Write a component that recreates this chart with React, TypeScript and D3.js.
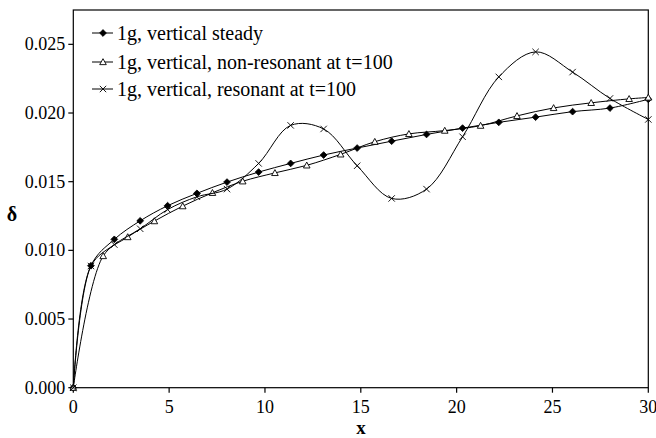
import React from "react";
import * as d3 from "d3";

const xSteady = [0, 0.92, 2.14, 3.49, 4.92, 6.45, 8.02, 9.67, 11.34, 13.06, 14.81, 16.61, 18.43, 20.31, 22.2, 24.12, 26.05, 28.0, 30];
const ySteady = [0, 0.00888, 0.0108, 0.01215, 0.01325, 0.01415, 0.01497, 0.0157, 0.01633, 0.01694, 0.01745, 0.01795, 0.01844, 0.0189, 0.01932, 0.0197, 0.0201, 0.02036, 0.021];

const xNonRes = [0, 1.56, 2.84, 4.23, 5.71, 7.26, 8.84, 10.52, 12.18, 13.95, 15.73, 17.51, 19.38, 21.25, 23.15, 25.06, 27.02, 29.0, 30];
const yNonRes = [0, 0.00959, 0.01097, 0.01213, 0.01322, 0.01419, 0.01503, 0.01564, 0.01619, 0.01699, 0.01791, 0.01848, 0.01872, 0.01908, 0.01979, 0.02037, 0.02074, 0.02103, 0.02113];

const xRes = [0, 0.92, 2.14, 3.49, 4.92, 6.45, 8.02, 9.67, 11.34, 13.06, 14.81, 16.61, 18.43, 20.31, 22.2, 24.12, 26.05, 28.0, 30];
const yRes = [0, 0.00886, 0.01042, 0.01157, 0.01297, 0.0139, 0.01446, 0.01633, 0.0191, 0.01884, 0.01616, 0.01378, 0.01446, 0.01827, 0.02263, 0.02445, 0.02298, 0.02106, 0.01953];

const xTicks = [0, 5, 10, 15, 20, 25, 30];
const yTicks = [0, 0.005, 0.01, 0.015, 0.02, 0.025];

const legendLabels = [
  "1g, vertical steady",
  "1g, vertical, non-resonant at t=100",
  "1g, vertical, resonant at t=100",
];

const W = 656;
const H = 438;
const left = 73.3;
const right = 648.3;
const top = 10;
const bottom = 387.7;

const FONT = "Liberation Serif";
const ts: React.CSSProperties = { fontFamily: FONT };

function Marker({ kind, cx, cy }: { kind: string; cx: number; cy: number }) {
  if (kind === "diamond") {
    const s = 3.4;
    return (
      <path
        d={`M${cx},${cy - s}L${cx + s},${cy}L${cx},${cy + s}L${cx - s},${cy}Z`}
        fill="#000"
        stroke="#000"
        strokeWidth={0.8}
      />
    );
  }
  if (kind === "triangle") {
    const s = 3.3;
    return (
      <path
        d={`M${cx},${cy - s}L${cx + s},${cy + s * 0.8}L${cx - s},${cy + s * 0.8}Z`}
        fill="#fff"
        stroke="#000"
        strokeWidth={0.9}
      />
    );
  }
  const s = 3.2;
  return (
    <path
      d={`M${cx - s},${cy - s}L${cx + s},${cy + s}M${cx - s},${cy + s}L${cx + s},${cy - s}`}
      stroke="#000"
      strokeWidth={0.9}
      fill="none"
    />
  );
}

export default function App() {
  const x = d3.scaleLinear().domain([0, 30]).range([left, right]);
  const y = d3.scaleLinear().domain([0, 0.0275]).range([bottom, top]);

  const line = d3
    .line<[number, number]>()
    .x((d) => x(d[0]))
    .y((d) => y(d[1]))
    .curve(d3.curveCatmullRom.alpha(0.5));

  const series = [
    { xs: xSteady, ys: ySteady, kind: "diamond" },
    { xs: xNonRes, ys: yNonRes, kind: "triangle" },
    { xs: xRes, ys: yRes, kind: "cross" },
  ];

  const legendY = [33, 62, 89];

  return (
    <svg
      width={W}
      height={H}
      style={{ position: "fixed", left: 0, top: 0, background: "#fff" }}
    >
      <rect x={0} y={0} width={W} height={H} fill="#fff" />
      <rect
        x={left}
        y={top}
        width={right - left}
        height={bottom - top}
        fill="none"
        stroke="#000"
        strokeWidth={1.2}
      />
      {yTicks.map((t) => (
        <g key={"y" + t}>
          <line x1={left - 5} x2={left} y1={y(t)} y2={y(t)} stroke="#000" strokeWidth={1.2} />
          <text
            x={left - 8}
            y={y(t) + 6}
            textAnchor="end"
            fontSize={18}
            style={ts}
          >
            {d3.format(".3f")(t)}
          </text>
        </g>
      ))}
      {xTicks.map((t) => (
        <g key={"x" + t}>
          <line x1={x(t)} x2={x(t)} y1={bottom} y2={bottom + 5} stroke="#000" strokeWidth={1.2} />
          <text x={x(t)} y={bottom + 25} textAnchor="middle" fontSize={18} style={ts}>
            {t}
          </text>
        </g>
      ))}
      <text x={361} y={434} textAnchor="middle" fontSize={19} fontWeight="bold" style={ts}>
        x
      </text>
      <text x={12} y={221} textAnchor="middle" fontSize={20} fontWeight="bold" style={ts}>
        δ
      </text>

      {series.map((s, i) => {
        const pts: [number, number][] = s.xs.map((v, j) => [v, s.ys[j]]);
        return (
          <g key={"s" + i}>
            <path d={line(pts) || ""} fill="none" stroke="#000" strokeWidth={1} />
            {pts.map((p, j) => (
              <Marker key={j} kind={s.kind} cx={x(p[0])} cy={y(p[1])} />
            ))}
          </g>
        );
      })}

      {legendLabels.map((lab, i) => (
        <g key={"l" + i}>
          <line x1={92} x2={113} y1={legendY[i]} y2={legendY[i]} stroke="#000" strokeWidth={1} />
          <Marker kind={series[i].kind} cx={103} cy={legendY[i]} />
          <text x={117} y={legendY[i] + 6.5} fontSize={20} style={ts}>
            {lab}
          </text>
        </g>
      ))}
    </svg>
  );
}
